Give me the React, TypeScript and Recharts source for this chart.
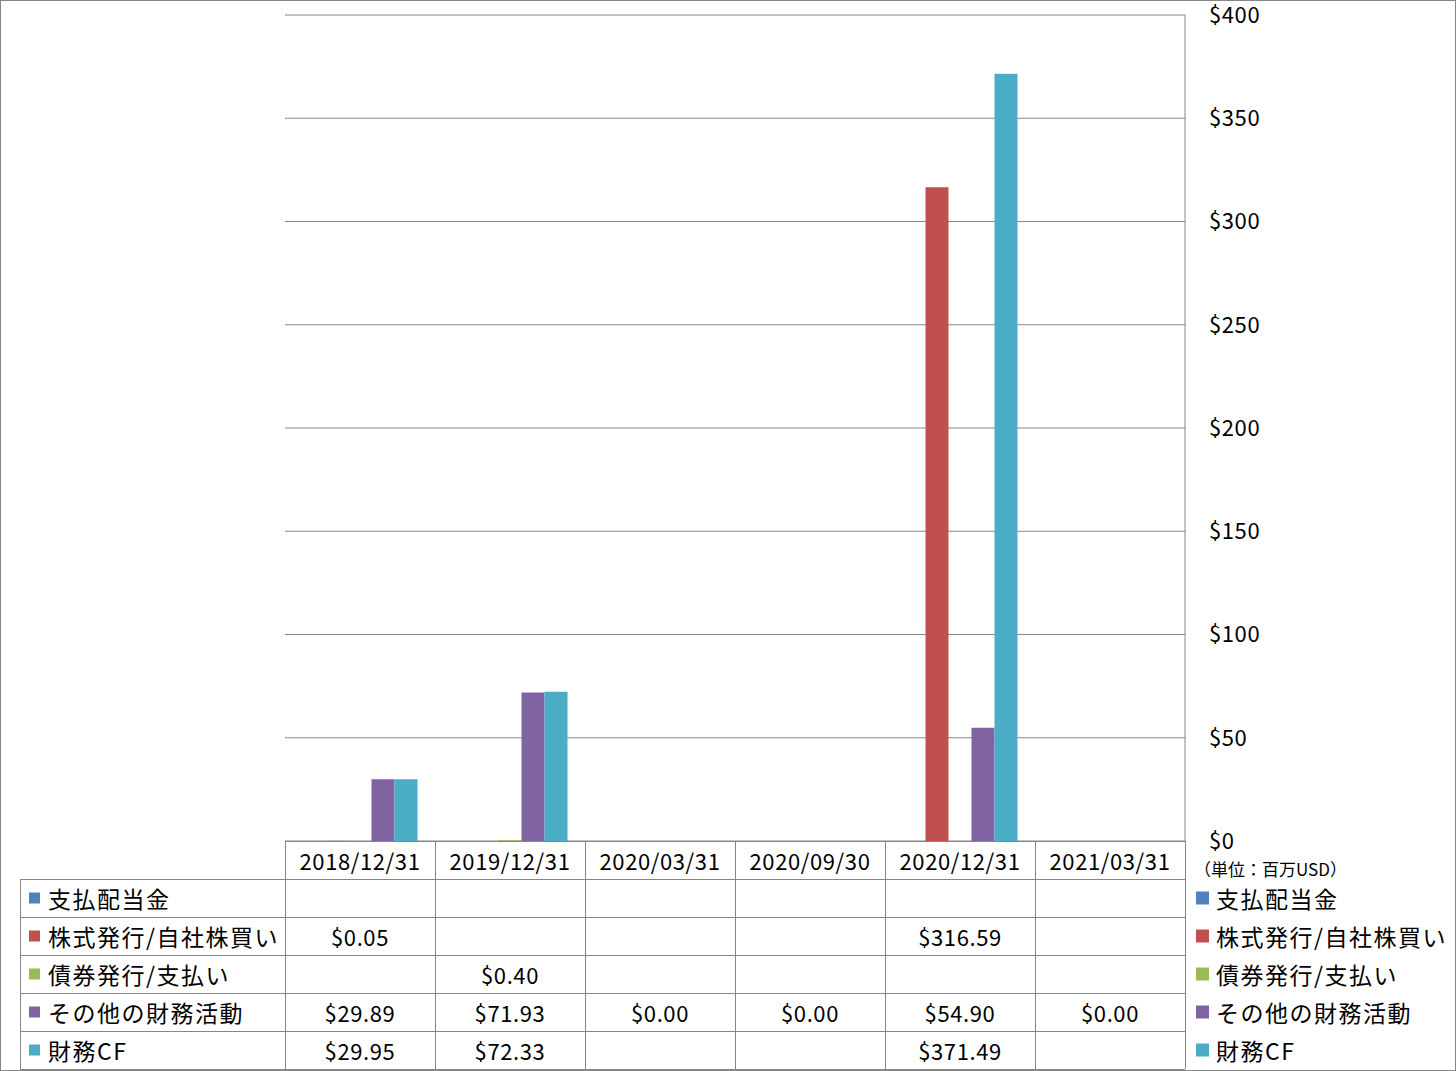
import { BarChart, Bar, XAxis, YAxis, CartesianGrid } from "recharts";

// categories (period ends) and series values, in million USD
const periods = ["2018/12/31", "2019/12/31", "2020/03/31", "2020/09/30", "2020/12/31", "2021/03/31"];
const dividends: (number | null)[] = [null, null, null, null, null, null];
const stockIssue: (number | null)[] = [0.05, null, null, null, 316.59, null];
const bondIssue: (number | null)[] = [null, 0.4, null, null, null, null];
const otherFinancing: (number | null)[] = [29.89, 71.93, 0, 0, 54.9, 0];
const financingCF: (number | null)[] = [29.95, 72.33, null, null, 371.49, null];
const yTicks = [0, 50, 100, 150, 200, 250, 300, 350, 400];

const series = [
  { key: "dividends", name: "支払配当金", color: "#4F81BD", values: dividends },
  { key: "stockIssue", name: "株式発行/自社株買い", color: "#C0504D", values: stockIssue },
  { key: "bondIssue", name: "債券発行/支払い", color: "#9BBB59", values: bondIssue },
  { key: "otherFinancing", name: "その他の財務活動", color: "#8064A2", values: otherFinancing },
  { key: "financingCF", name: "財務CF", color: "#4BACC6", values: financingCF },
];

const data = periods.map((p, i) => {
  const row: { [k: string]: string | number | null } = { period: p };
  series.forEach((s) => (row[s.key] = s.values[i]));
  return row;
});

const FONT = '"Noto Sans CJK JP", "Noto Sans", sans-serif';
const W = 1456;
const H = 1071;
const PLOT_LEFT = 285;
const PLOT_TOP = 15;
const PLOT_BOTTOM = 841;
const COL_W = 150;
const TABLE_LEFT = 20;
const ROW_H = 38;
const GRID = "#868686";

const fmt = (v: number | null) => (v == null ? "" : `$${v.toFixed(2)}`);

// the data table under the plot plus the legend to its right
function DataTable() {
  const plotRight = PLOT_LEFT + COL_W * periods.length;
  const firstRow = PLOT_BOTTOM + ROW_H;
  const lastLine = firstRow + ROW_H * series.length;
  const numText = { fontSize: 22, letterSpacing: 0.6, fill: "#000" };
  const labelText = { fontSize: 23, letterSpacing: 1.5, fill: "#000" };
  return (
    <svg
      width={W}
      height={H}
      style={{ position: "absolute", left: 0, top: 0, pointerEvents: "none", fontFamily: FONT }}
    >
      <rect x={0.5} y={0.5} width={W - 1} height={H - 1} fill="none" stroke={GRID} />
      <line x1={PLOT_LEFT} x2={plotRight} y1={PLOT_BOTTOM + 0.5} y2={PLOT_BOTTOM + 0.5} stroke={GRID} />
      {series.map((_, i) => (
        <line
          key={"h" + i}
          x1={TABLE_LEFT}
          x2={plotRight}
          y1={firstRow + ROW_H * i + 0.5}
          y2={firstRow + ROW_H * i + 0.5}
          stroke={GRID}
        />
      ))}
      <line x1={TABLE_LEFT} x2={plotRight} y1={lastLine + 0.5} y2={lastLine + 0.5} stroke={GRID} />
      <line x1={TABLE_LEFT + 0.5} x2={TABLE_LEFT + 0.5} y1={firstRow} y2={lastLine} stroke={GRID} />
      {[...periods, ""].map((_, i) => (
        <line
          key={"v" + i}
          x1={PLOT_LEFT + COL_W * i + 0.5}
          x2={PLOT_LEFT + COL_W * i + 0.5}
          y1={PLOT_BOTTOM}
          y2={lastLine}
          stroke={GRID}
        />
      ))}
      {periods.map((p, i) => (
        <text
          key={p}
          x={PLOT_LEFT + COL_W * i + COL_W / 2}
          y={PLOT_BOTTOM + ROW_H / 2 - 0.5}
          textAnchor="middle"
          dominantBaseline="central"
          {...numText}
        >
          {p}
        </text>
      ))}
      {series.map((s, r) => {
        const cy = firstRow + ROW_H * r + ROW_H / 2 - 0.5;
        return (
          <g key={s.key}>
            <rect x={29} y={cy - 5} width={11} height={11} fill={s.color} />
            <text x={48} y={cy} dominantBaseline="central" {...labelText}>
              {s.name}
            </text>
            {s.values.map((v, c) => (
              <text
                key={c}
                x={PLOT_LEFT + COL_W * c + COL_W / 2}
                y={cy}
                textAnchor="middle"
                dominantBaseline="central"
                {...numText}
              >
                {fmt(v)}
              </text>
            ))}
            <rect x={1196} y={cy - 6} width={13} height={13} fill={s.color} />
            <text x={1216} y={cy} dominantBaseline="central" {...labelText}>
              {s.name}
            </text>
          </g>
        );
      })}
      <text x={1194} y={868} dominantBaseline="central" fontSize={17} fill="#000">
        （単位：百万USD）
      </text>
    </svg>
  );
}

export default function App() {
  return (
    <div style={{ position: "absolute", left: 0, top: 0, width: W, height: H, background: "#fff" }}>
      <BarChart
        width={W}
        height={H}
        data={data}
        margin={{ top: PLOT_TOP, right: 0, bottom: H - PLOT_BOTTOM, left: PLOT_LEFT }}
        barCategoryGap={17.5}
        barGap={0}
      >
        <CartesianGrid vertical={false} stroke={GRID} />
        <XAxis dataKey="period" hide />
        <YAxis
          orientation="right"
          width={W - PLOT_LEFT - COL_W * periods.length}
          domain={[0, 400]}
          ticks={yTicks}
          tickFormatter={(v: number) => `$${v}`}
          axisLine={{ stroke: GRID }}
          tickLine={false}
          tickMargin={18}
          tick={{ fontSize: 22, letterSpacing: 0.6, fill: "#000", fontFamily: FONT }}
        />
        {series.map((s) => (
          <Bar key={s.key} dataKey={s.key} name={s.name} fill={s.color} isAnimationActive={false} />
        ))}
      </BarChart>
      <DataTable />
    </div>
  );
}
